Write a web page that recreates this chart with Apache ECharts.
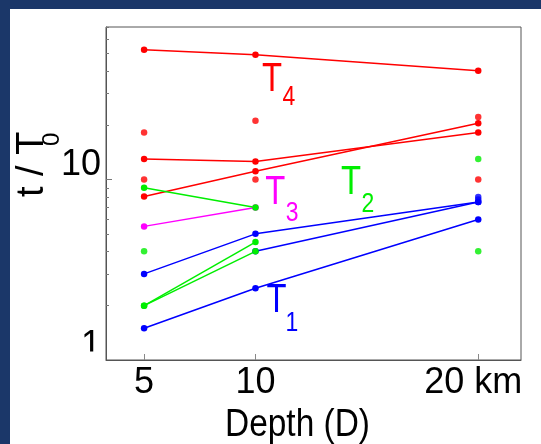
<!DOCTYPE html>
<html>
<head>
<meta charset="utf-8">
<script src="https://cdn.jsdelivr.net/npm/echarts@6/dist/echarts.min.js"></script>
<style>
  html, body { margin: 0; padding: 0; width: 541px; height: 444px; background: #1b3769; overflow: hidden; }
  #chart { position: absolute; left: 10px; top: 9px; width: 531px; height: 435px; background: #ffffff; }
</style>
</head>
<body>
<div id="chart"></div>
<script>
// Depth of the layer (km) and tick labels
const depthsAll = [5, 10, 20];
const depthsShallow = [5, 10];
const depthsDeep = [10, 20];
const xTickValues = [5, 10, 20];
const xTickLabels = ['5', '10', '20 km'];
const yLabelValues = [1, 10];
const yMinorValues = [2, 3, 4, 5, 6, 7, 8, 9, 20, 30, 40, 50, 60, 70];

// T4 (red)
const t4Upper = [52.3, 49.1, 40.0];
const t4Middle = [13.0, 12.6, 18.2];
const t4Lower = [8.05, 11.1, 20.5];
const t4LooseDepth = [5, 5, 10, 10, 20, 20];
const t4LooseValue = [18.2, 10.0, 21.2, 10.0, 22.2, 10.0];

// T3 (magenta)
const t3Line = [5.5, 7.0];

// T2 (green)
const t2Falling = [9.0, 7.0];
const t2RisingA = [2.0, 4.5];
const t2RisingB = [2.0, 4.0];
const t2LooseDepth = [5, 20, 20];
const t2LooseValue = [4.0, 13.0, 4.0];

// T1 (blue)
const t1Upper = [3.0, 5.0, 7.5];
const t1Middle = [4.0, 7.5];
const t1Lower = [1.5, 2.5, 6.0];
const t1LooseDepth = [20, 20];
const t1LooseValue = [8.0, 7.75];

const RED = '#ff0000', GREEN = '#00ee00', BLUE = '#0000ff', MAGENTA = '#ff00ff';
const FONT = "'Liberation Sans', Arial, sans-serif";

function pair(xs, ys) { return xs.map((x, i) => [x, ys[i]]); }

function lineSeries(color, xs, ys) {
  return {
    type: 'line', data: pair(xs, ys), symbol: 'circle', symbolSize: 6.5,
    lineStyle: { color: color, width: 1.5 }, itemStyle: { color: color },
    animation: false, z: 3
  };
}
function dotSeries(color, xs, ys) {
  return {
    type: 'scatter', data: pair(xs, ys), symbol: 'circle', symbolSize: 6.5,
    itemStyle: { color: color }, animation: false, z: 4
  };
}

// Series label: a narrow "T" with a subscript index
function subLabel(main, sub, color, x, y, subX, subY) {
  return {
    type: 'group', x: x, y: y, scaleX: 0.82, silent: true,
    children: [
      { type: 'text', x: 0, y: 0, style: { text: main, fill: color, font: '40px ' + FONT, textAlign: 'left', textVerticalAlign: 'top' } },
      { type: 'text', x: subX, y: subY, style: { text: sub, fill: color, font: '28px ' + FONT, textAlign: 'left', textVerticalAlign: 'top' } }
    ]
  };
}

const chart = echarts.init(document.getElementById('chart'), null, { renderer: 'canvas' });

chart.setOption({
  animation: false,
  backgroundColor: '#ffffff',
  grid: { left: 96, right: 20, top: 18, bottom: 84, show: true, borderColor: '#555555', borderWidth: 1, backgroundColor: 'transparent' },
  xAxis: {
    type: 'value', min: 3.29, max: 21.92,
    axisLine: { show: true, lineStyle: { color: '#555555', width: 1 } },
    axisTick: { show: true, inside: true, length: 6, customValues: xTickValues, lineStyle: { color: '#888888' } },
    axisLabel: {
      customValues: xTickValues, margin: 5, color: '#000', fontSize: 36, fontFamily: FONT,
      formatter: v => {
        const text = xTickLabels[xTickValues.indexOf(v)];
        return v === 20 ? '{far|' + text + '}' : text;
      },
      rich: { far: { fontSize: 36, fontFamily: FONT, color: '#000', padding: [0, 10, 0, 0] } }
    },
    splitLine: { show: false }
  },
  yAxis: [{
    type: 'log', logBase: 10, min: 1, max: 70,
    axisLine: { show: true, lineStyle: { color: '#555555', width: 1 } },
    axisTick: { show: true, inside: true, length: 3, customValues: yMinorValues, lineStyle: { color: '#777777' } },
    axisLabel: { customValues: yLabelValues, margin: 5, color: '#000', fontSize: 36, fontFamily: FONT,
      verticalAlign: 'bottom', lineHeight: 28 },
    splitLine: { show: false }
  }, {
    type: 'log', logBase: 10, min: 1, max: 70, position: 'left',
    axisLine: { show: false },
    axisTick: { show: true, inside: true, length: 6, customValues: [10], lineStyle: { color: '#777777' } },
    axisLabel: { show: false },
    splitLine: { show: false }
  }],
  graphic: [
    // the lowest tick label is cut off at the level of the x axis
    { type: 'rect', shape: { x: 40, y: 342.5, width: 55, height: 10 }, style: { fill: '#ffffff' }, z: 100, silent: true },
    { type: 'text', x: 287.5, y: 398, scaleX: 0.88, silent: true,
      style: { text: 'Depth (D)', fill: '#000', font: '38px ' + FONT, textAlign: 'center', textVerticalAlign: 'top' } },
    { type: 'group', x: -10, y: 188, rotation: Math.PI / 2, silent: true,
      children: [
        { type: 'text', x: 0, y: 14, style: { text: 't / T', fill: '#000', font: '38px ' + FONT, textAlign: 'left', textVerticalAlign: 'top' } },
        { type: 'text', x: 51, y: 40, style: { text: '0', fill: '#000', font: '24px ' + FONT, textAlign: 'left', textVerticalAlign: 'top' } }
      ] },
    subLabel('T', '4', RED, 252, 51, 25, 23),
    subLabel('T', '3', MAGENTA, 255.3, 164.3, 25, 26),
    subLabel('T', '2', GREEN, 331, 154.3, 25, 27),
    subLabel('T', '1', BLUE, 256.6, 272, 23, 28)
  ],
  series: [
    lineSeries(RED, depthsAll, t4Upper),
    lineSeries(RED, depthsAll, t4Middle),
    lineSeries(RED, depthsAll, t4Lower),
    dotSeries(RED, t4LooseDepth, t4LooseValue),
    lineSeries(BLUE, depthsAll, t1Upper),
    lineSeries(BLUE, depthsDeep, t1Middle),
    lineSeries(BLUE, depthsAll, t1Lower),
    dotSeries(BLUE, t1LooseDepth, t1LooseValue),
    lineSeries(MAGENTA, depthsShallow, t3Line),
    lineSeries(GREEN, depthsShallow, t2Falling),
    lineSeries(GREEN, depthsShallow, t2RisingA),
    lineSeries(GREEN, depthsShallow, t2RisingB),
    dotSeries(GREEN, t2LooseDepth, t2LooseValue)
  ]
});
</script>
</body>
</html>
